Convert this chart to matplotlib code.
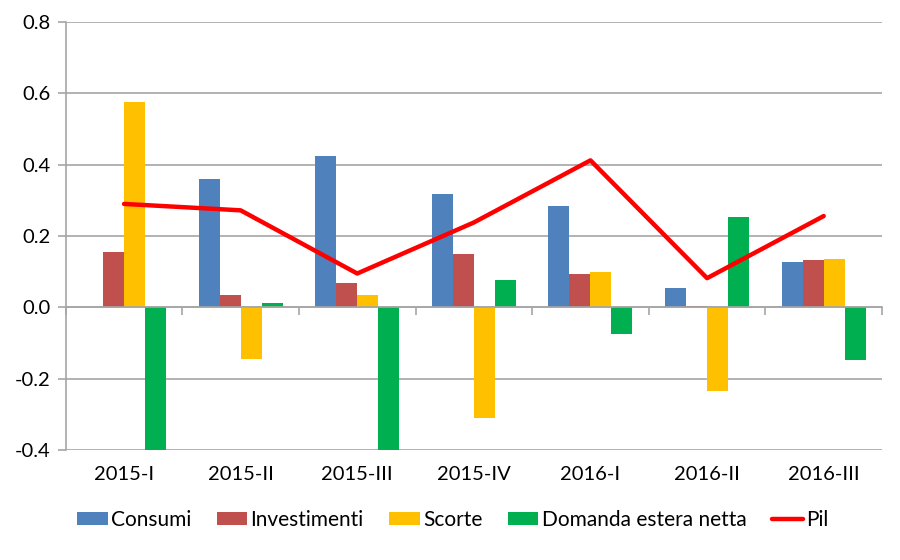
import matplotlib
matplotlib.use("Agg")
import matplotlib.pyplot as plt
import numpy as np
from matplotlib.patches import Patch
from matplotlib.lines import Line2D

plt.rcParams['font.family'] = ['Lato', 'DejaVu Sans']

categories = ["2015-I", "2015-II", "2015-III", "2015-IV", "2016-I", "2016-II", "2016-III"]
consumi = [0.0, 0.361, 0.425, 0.319, 0.284, 0.055, 0.127]
investimenti = [0.155, 0.035, 0.068, 0.150, 0.094, 0.003, 0.133]
scorte = [0.576, -0.145, 0.034, -0.309, 0.098, -0.233, 0.136]
domanda_estera = [-0.45, 0.013, -0.45, 0.076, -0.074, 0.254, -0.147]
pil = [0.290, 0.272, 0.095, 0.238, 0.412, 0.082, 0.256]

series = [("Consumi", consumi, "#4F81BD"),
          ("Investimenti", investimenti, "#C0504D"),
          ("Scorte", scorte, "#FFC000"),
          ("Domanda estera netta", domanda_estera, "#00B050")]

fig = plt.figure(figsize=(9, 5.6), dpi=100)
ax = fig.add_axes([0.073, 0.196, 0.907, 0.765])

x = np.arange(len(categories))
w = 0.18
for i, (name, vals, col) in enumerate(series):
    ax.bar(x + (i - 1.5) * w, vals, width=w, color=col, zorder=2)
ax.plot(x, pil, color="#FF0000", lw=3.2, zorder=3, solid_capstyle="round")

ax.set_xlim(-0.5, len(categories) - 0.5)
ax.set_ylim(-0.4, 0.8)
yt = [-0.4, -0.2, 0.0, 0.2, 0.4, 0.6, 0.8]
ax.set_yticks(yt)
ax.set_yticklabels([f"{v:.1f}" for v in yt], fontsize=14.5)
ax.yaxis.grid(True, color="#A6A6A6", lw=1.2, zorder=0)
ax.tick_params(axis='y', length=6, color="#A6A6A6", width=1.2, pad=5)

for s in ["top", "right"]:
    ax.spines[s].set_visible(False)
ax.spines["left"].set_color("#A6A6A6")
ax.spines["left"].set_linewidth(1.2)
ax.spines["bottom"].set_position(("data", 0))
ax.spines["bottom"].set_color("#A6A6A6")
ax.spines["bottom"].set_linewidth(1.2)
ax.set_xticks(np.arange(-0.5, len(categories), 1.0))
ax.set_xticklabels([])
ax.tick_params(axis='x', length=6, color="#A6A6A6", width=1.2, direction='out')

sec = ax.secondary_xaxis('bottom')
sec.set_xticks(x)
sec.set_xticklabels(categories, fontsize=14.5)
sec.tick_params(length=0, pad=11)
sec.spines["bottom"].set_visible(False)

handles = [Patch(facecolor=c, label=n) for n, _, c in series]
handles.append(Line2D([0], [0], color="#FF0000", lw=3.2, label="Pil", solid_capstyle="round"))
fig.legend(handles=handles, loc="center", bbox_to_anchor=(0.503, 0.072), ncol=5,
           frameon=False, fontsize=15, handlelength=1.45, handleheight=0.63,
           handletextpad=0.15, columnspacing=1.25)

fig.savefig("out.png", dpi=100, facecolor="white")
